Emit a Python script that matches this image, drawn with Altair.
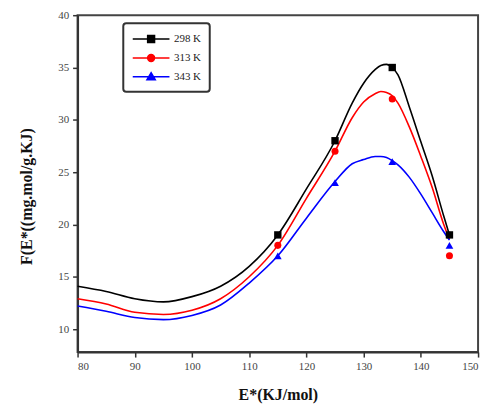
import altair as alt
import pandas as pd

series = ["298 K", "313 K", "343 K"]
colors = ["#000000", "#ff0000", "#0000ff"]

# measured markers
marker_x = [115, 125, 135, 145]
marker_298 = [19.0, 28.0, 35.0, 19.0]
marker_313 = [18.0, 27.0, 32.0, 17.0]
marker_343 = [17.0, 24.0, 26.0, 18.0]

# fitted curves
curve_x = [80, 85, 90, 95, 100, 105, 110, 115, 120, 125, 128, 130, 132, 133, 134, 135, 136, 138, 140, 142, 144, 145]
curve_298 = [14.1, 13.6, 12.9, 12.6, 13.1, 14.1, 16.0, 19.0, 23.4, 28.0, 31.6, 33.5, 34.8, 35.2, 35.3, 35.0, 34.3, 31.2, 27.9, 24.6, 20.8, 19.0]
curve_313 = [12.9, 12.4, 11.6, 11.4, 11.8, 12.9, 15.0, 18.0, 22.5, 27.0, 30.2, 31.7, 32.5, 32.7, 32.6, 32.3, 31.6, 29.3, 26.5, 23.5, 20.0, 18.6]
curve_343 = [12.2, 11.7, 11.1, 10.9, 11.3, 12.3, 14.4, 17.0, 20.6, 24.1, 25.8, 26.2, 26.5, 26.5, 26.4, 26.1, 25.7, 24.5, 22.9, 21.1, 19.3, 18.5]

x_ticks = [80, 90, 100, 110, 120, 130, 140, 150]
y_ticks = [10, 15, 20, 25, 30, 35, 40]

curves = pd.DataFrame(
    [{"series": s, "x": x, "y": y}
     for s, ys in zip(series, [curve_298, curve_313, curve_343])
     for x, y in zip(curve_x, ys)]
)
markers = pd.DataFrame(
    [{"series": s, "x": x, "y": y}
     for s, ys in zip(series, [marker_298, marker_313, marker_343])
     for x, y in zip(marker_x, ys)]
)

xs = alt.Scale(domain=[80, 150], nice=False)
ys_ = alt.Scale(domain=[7.8, 40], nice=False)

x_enc = alt.X("x:Q", scale=xs, title="E*(KJ/mol)",
              axis=alt.Axis(values=x_ticks, titlePadding=15, titleFontSize=16))
y_enc = alt.Y("y:Q", scale=ys_, title="F(E*((mg.mol/g.KJ)",
              axis=alt.Axis(values=y_ticks, titlePadding=23, titleY=182, titleFontSize=16))

# legend symbols: a line through a marker (path units scaled by sqrt(size)/2)
shape_paths = [
    "M-2.55,0L2.55,0M-0.48,-0.48L0.48,-0.48L0.48,0.48L-0.48,0.48Z",
    "M-2.55,0L2.55,0M0.48,0A0.48,0.48 0 1,1 -0.48,0A0.48,0.48 0 1,1 0.48,0Z",
    "M-2.55,0L2.55,0M0,-0.58L0.58,0.42L-0.58,0.42Z",
]
leg = alt.Legend(
    title=None, orient="none", legendX=46, legendY=8,
    symbolSize=210, symbolStrokeWidth=1.5, symbolOpacity=1,
    symbolOffset=12, labelOffset=15,
    labelFont="Liberation Serif", labelFontSize=11, labelColor="#222",
    padding=8, rowPadding=4,
    strokeColor="#333", cornerRadius=3, fillColor="white",
)
legend_layer = alt.Chart(markers).mark_point(filled=True).encode(
    x=x_enc, y=y_enc,
    fill=alt.Fill("series:N", scale=alt.Scale(domain=series, range=colors), legend=leg),
    stroke=alt.Stroke("series:N", scale=alt.Scale(domain=series, range=colors), legend=leg),
    shape=alt.Shape("series:N", scale=alt.Scale(domain=series, range=shape_paths), legend=leg),
    opacity=alt.value(0),
)

shapes = ["square", "circle", "triangle-up"]
sizes = [55, 50, 60]
line_layers = []
marker_layers = []
for s, c, sh, sz in zip(series, colors, shapes, sizes):
    line_layers.append(
        alt.Chart(curves).transform_filter(alt.datum.series == s)
        .mark_line(interpolate="monotone", strokeWidth=1.6)
        .encode(x=x_enc, y=y_enc, color=alt.value(c))
    )
    marker_layers.append(
        alt.Chart(markers).transform_filter(alt.datum.series == s)
        .mark_point(shape=sh, filled=True, size=sz, opacity=1)
        .encode(x=x_enc, y=y_enc, color=alt.value(c))
    )

chart = alt.layer(*line_layers, *marker_layers, legend_layer).properties(
    width=403, height=339,
    autosize=alt.AutoSizeParams(type="none"),
    padding={"left": 70, "top": 6, "right": 10, "bottom": 52},
).configure(
    font="Liberation Serif",
).configure_view(
    stroke="#444", strokeWidth=2,
).configure_legend(
    strokeWidth=2,
).configure_axis(
    grid=False,
    domainColor="#333", domainWidth=2,
    tickColor="#333", tickWidth=1.5, tickSize=5, labelPadding=4,
    labelFont="Liberation Serif", labelFontSize=11, labelColor="#444",
    titleFont="Liberation Serif", titleFontWeight="bold", titleColor="#111",
)

chart.save("out.html", embed_options={"renderer": "svg", "actions": False})
